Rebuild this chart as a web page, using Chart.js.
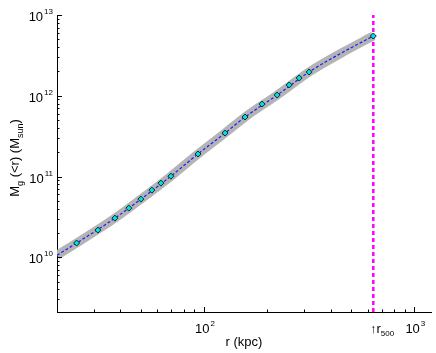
<!DOCTYPE html>
<html>
<head>
<meta charset="utf-8">
<script src="https://cdn.jsdelivr.net/npm/chart.js@4/dist/chart.umd.min.js"></script>
<style>
  html, body { margin: 0; padding: 0; background: #fff; }
  #wrap { width: 436px; height: 353px; }
</style>
</head>
<body>
<div id="wrap"><canvas id="massChart"></canvas></div>
<script>
// ── Data ──────────────────────────────────────────────────────────────────
// measured gas mass profile (kpc, M_sun)
const rKpc = [24.8, 31.3, 37.7, 43.9, 50.1, 56.5, 62.4, 69.6, 93.6, 125.9, 156.7, 188.9, 222.7, 254, 283.4, 316, 638];
const mGas = [1.50e10, 2.17e10, 3.05e10, 4.06e10, 5.25e10, 6.78e10, 8.28e10, 1.01e11, 1.90e11, 3.45e11, 5.45e11, 7.89e11, 1.02e12, 1.36e12, 1.66e12, 1.97e12, 5.49e12];
// smooth model curve (with uncertainty band)
const modelR = [20, 24.8, 37.7, 50.1, 69.6, 93.6, 125.9, 156.7, 222.7, 316, 450, 638];
const modelM = [1.06e10, 1.50e10, 3.05e10, 5.25e10, 1.01e11, 1.90e11, 3.45e11, 5.45e11, 1.02e12, 1.97e12, 3.38e12, 5.49e12];
const r500 = 638;
const xRange = [20, 1200];
const yRange = [2.1e9, 1e13];
const xMajorExp = [2, 3];
const yMajorExp = [10, 11, 12, 13];

const pts = (xs, ys) => xs.map((x, i) => ({ x, y: ys[i] }));

// ── Axis decorations: inward ticks, 10^n labels, titles ───────────────────
const FONT = '"Liberation Sans", Arial, sans-serif';

function minorValues(lo, hi) {
  const out = [];
  for (let e = Math.floor(Math.log10(lo)); e <= Math.ceil(Math.log10(hi)); e++) {
    for (let m = 2; m <= 9; m++) {
      const v = m * Math.pow(10, e);
      if (v > lo && v < hi) out.push(v);
    }
  }
  return out;
}

function powLabel(ctx, x, y, exp, align) {
  ctx.font = '13px ' + FONT;
  const wBase = ctx.measureText('10').width;
  ctx.font = '8px ' + FONT;
  const wExp = ctx.measureText(String(exp)).width;
  let x0 = align === 'right' ? x - wBase - wExp - 1 : x - (wBase + wExp + 1) / 2;
  ctx.font = '13px ' + FONT;
  ctx.fillText('10', x0, y);
  ctx.font = '8px ' + FONT;
  ctx.fillText(String(exp), x0 + wBase + 1, y - 7);
}

function textRun(ctx, parts, x, y) {
  // parts: [text, size, dy]
  let cx = x;
  parts.forEach(([t, size, dy]) => {
    ctx.font = size + 'px ' + FONT;
    ctx.fillText(t, cx, y + dy);
    cx += ctx.measureText(t).width;
  });
  return cx - x;
}

function runWidth(ctx, parts) {
  let w = 0;
  parts.forEach(([t, size]) => { ctx.font = size + 'px ' + FONT; w += ctx.measureText(t).width; });
  return w;
}

const axisDecor = {
  id: 'axisDecor',
  afterDraw(chart) {
    const { ctx, chartArea: a, scales: { x, y } } = chart;
    ctx.save();
    ctx.strokeStyle = '#000';
    ctx.fillStyle = '#000';
    ctx.lineWidth = 1;
    ctx.textBaseline = 'alphabetic';

    // y ticks
    ctx.beginPath();
    yMajorExp.forEach(e => {
      const py = Math.round(y.getPixelForValue(Math.pow(10, e))) + 0.5;
      ctx.moveTo(a.left, py); ctx.lineTo(a.left + 5, py);
    });
    minorValues(yRange[0], yRange[1]).forEach(v => {
      const py = Math.round(y.getPixelForValue(v)) + 0.5;
      ctx.moveTo(a.left, py); ctx.lineTo(a.left + 2.5, py);
    });
    // x ticks
    xMajorExp.forEach(e => {
      const px = Math.round(x.getPixelForValue(Math.pow(10, e))) + 0.5;
      ctx.moveTo(px, a.bottom); ctx.lineTo(px, a.bottom - 5);
    });
    minorValues(xRange[0], xRange[1]).forEach(v => {
      const px = Math.round(x.getPixelForValue(v)) + 0.5;
      ctx.moveTo(px, a.bottom); ctx.lineTo(px, a.bottom - 2.5);
    });
    ctx.stroke();

    // tick labels
    yMajorExp.forEach(e => powLabel(ctx, a.left - 4, y.getPixelForValue(Math.pow(10, e)) + 6, e, 'right'));
    xMajorExp.forEach(e => powLabel(ctx, x.getPixelForValue(Math.pow(10, e)) + 1, a.bottom + 21, e, 'center'));

    // r500 marker label
    const pr = x.getPixelForValue(r500);
    ctx.font = '13px ' + FONT;
    const wArrow = ctx.measureText('\u2191').width;
    textRun(ctx, [['\u2191r', 13, 0], ['500', 8, 3]], pr - wArrow / 2, a.bottom + 21);

    // x title
    ctx.font = '13px ' + FONT;
    ctx.textAlign = 'center';
    ctx.fillText('r (kpc)', (a.left + a.right) / 2, 346);
    ctx.textAlign = 'left';

    // y title (rotated, with subscripts)
    const yParts = [['M', 13, 0], ['g', 9, 4], [' (<r) (M', 13, 0], ['sun', 9, 4], [')', 13, 0]];
    const w = runWidth(ctx, yParts);
    ctx.translate(19, 158);
    ctx.rotate(-Math.PI / 2);
    textRun(ctx, yParts, -w / 2, 0);
    ctx.restore();
  }
};

// ── Chart ─────────────────────────────────────────────────────────────────
const hiddenTicks = { display: false };
new Chart(document.getElementById('massChart').getContext('2d'), {
  type: 'line',
  data: {
    datasets: [
      {
        label: 'data',
        data: pts(rKpc, mGas),
        showLine: false,
        pointStyle: 'rectRot',
        pointRadius: 3,
        pointBackgroundColor: '#00e0e0',
        pointBorderColor: '#0a2a2a',
        pointBorderWidth: 1,
        order: 0
      },
      {
        label: 'model',
        data: pts(modelR, modelM),
        borderColor: '#1a1aff',
        borderWidth: 1.2,
        borderDash: [3, 2],
        pointRadius: 0,
        cubicInterpolationMode: 'monotone',
        order: 1
      },
      {
        label: 'r500',
        data: [{ x: r500, y: yRange[0] }, { x: r500, y: yRange[1] }],
        borderColor: '#ff00ff',
        borderWidth: 2.5,
        borderDash: [4, 3],
        pointRadius: 0,
        order: 2
      },
      {
        label: 'band',
        data: pts(modelR, modelM),
        borderColor: '#b4b4b4',
        borderWidth: 9,
        borderCapStyle: 'butt',
        borderJoinStyle: 'round',
        pointRadius: 0,
        cubicInterpolationMode: 'monotone',
        order: 3
      }
    ]
  },
  options: {
    responsive: true,
    maintainAspectRatio: false,
    animation: false,
    layout: { padding: { left: 49, right: 5, top: 15, bottom: 33 } },
    plugins: { legend: { display: false }, tooltip: { enabled: false } },
    scales: {
      x: {
        type: 'logarithmic',
        min: xRange[0], max: xRange[1],
        ticks: hiddenTicks,
        grid: { display: false },
        border: { display: true, color: '#000', width: 1 }
      },
      y: {
        type: 'logarithmic',
        min: yRange[0], max: yRange[1],
        ticks: hiddenTicks,
        grid: { display: false },
        border: { display: true, color: '#000', width: 1 }
      }
    }
  },
  plugins: [axisDecor]
});
</script>
</body>
</html>
